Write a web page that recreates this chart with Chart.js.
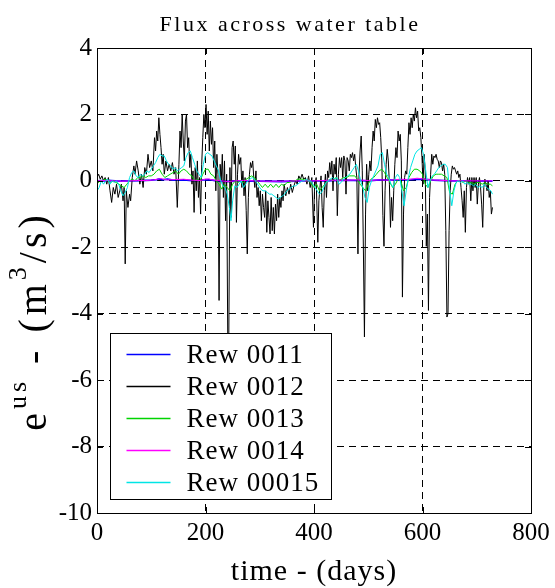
<!DOCTYPE html>
<html><head><meta charset="utf-8">
<script src="https://cdn.jsdelivr.net/npm/chart.js@4.4.1/dist/chart.umd.min.js"></script>
<style>html,body{margin:0;padding:0;background:#fff;}</style>
</head><body>
<canvas id="c" width="555" height="588" style="display:block;width:555px;height:588px"></canvas>
<script>
const titleText = 'Flux across water table';
const xLabel = 'time - (days)';
const xTicks = [0, 200, 400, 600, 800];
const yTicks = [-10, -8, -6, -4, -2, 0, 2, 4];
const seriesNames = ['Rew 0011', 'Rew 0012', 'Rew 0013', 'Rew 0014', 'Rew 00015'];
const seriesColors = ['#0000ff', '#000000', '#00d400', '#ff00ff', '#00e5e5'];

// [day, value] pairs
const rew0011 = [[0,0],[20,0.01],[40,-0.01],[60,0],[80,0.01],[100,0.02],[110,0.04],[115,0.06],[120,0.03],[130,0.05],[140,0.02],[160,0.03],[180,0],[200,0.04],[210,0.03],[220,0],[240,-0.02],[260,0],[300,-0.01],[340,-0.02],[380,0],[420,0],[460,0.02],[500,0],[520,0.03],[560,0.02],[580,0.04],[600,0.05],[620,0.02],[650,0],[700,0],[729,-0.01]];

const rew0012 = [[0,0.1],[3,0.2],[6,0.05],[9,0.15],[12,0],[15,0.1],[18,-0.1],[21,0.1],[24,-0.3],[27,-0.65],[30,-0.2],[33,-0.4],[36,-0.1],[39,-0.5],[42,-0.3],[45,-0.1],[48,-0.6],[50,-0.2],[52,-2.5],[54,-0.3],[57,-0.8],[60,-0.4],[62,-0.6],[65,0.1],[68,0.45],[70,0.2],[73,0.6],[76,0.3],[79,-0.1],[82,0.2],[85,-0.2],[88,0.4],[91,0.2],[94,0.8],[97,0.4],[100,0.6],[103,0.3],[106,1.3],[108,0.9],[110,1.5],[112,1.2],[114,1.9],[116,1.4],[118,1.0],[120,0.5],[122,0.8],[124,0.2],[127,0.6],[130,0.3],[133,0.5],[136,0.3],[139,0.55],[142,0.2],[145,0.4],[148,-0.8],[151,0.5],[153,1.5],[155,1.0],[157,2.0],[159,1.2],[161,0.6],[163,1.8],[165,2.0],[167,1.0],[169,1.3],[171,0.4],[173,0.8],[175,-0.1],[177,0.3],[179,-0.95],[181,0.4],[183,-0.3],[185,0.6],[187,-0.5],[189,0.1],[191,-1.0],[193,0.5],[195,1.3],[197,2.0],[199,1.6],[201,2.3],[203,1.4],[205,2.1],[207,0.9],[209,1.8],[211,1.1],[213,1.6],[215,0.4],[217,1.2],[219,-0.3],[221,0.8],[223,0.2],[225,-3.6],[227,0.5],[229,0],[231,0.8],[233,-0.5],[235,0.6],[237,-1.2],[239,0.2],[241,-4.7],[243,-4.6],[245,0.4],[247,-1.1],[249,1.0],[251,1.2],[253,0.5],[255,1.05],[257,-1.25],[259,0.2],[261,0.8],[263,0.5],[265,0.7],[267,-0.2],[269,0.3],[271,-0.45],[273,0.1],[275,-0.9],[277,-2.2],[279,-0.5],[281,0.2],[283,0.55],[285,0.4],[287,0.6],[289,0.1],[291,-0.2],[293,0.3],[295,-0.5],[297,-0.2],[299,-0.75],[301,-0.3],[303,-1.2],[305,-0.4],[307,-0.8],[309,-1.1],[311,-0.3],[313,-1.55],[315,-0.6],[317,-1.1],[319,-1.6],[321,-0.5],[323,-1.5],[325,-0.8],[327,-1.6],[329,-0.7],[331,-1.2],[333,-0.4],[335,-1.1],[337,-0.5],[339,-0.8],[341,-0.3],[343,-0.6],[345,-0.1],[348,-0.45],[351,-0.2],[354,-0.4],[357,-0.1],[360,-0.35],[363,-0.15],[366,0],[369,-0.1],[372,0.15],[375,0.05],[378,0.2],[381,0.05],[384,0.1],[387,-0.1],[390,0.15],[393,-0.2],[396,0.1],[399,-1.4],[401,-0.2],[404,0.1],[407,-1.85],[409,-0.6],[411,-0.2],[413,0.15],[415,-0.8],[417,-1.4],[419,-0.3],[421,0.2],[423,-0.5],[425,0.3],[427,0.1],[429,0.55],[431,0.2],[433,0.6],[435,-0.3],[437,0.5],[439,0.2],[441,0.7],[443,-1.05],[445,0.2],[447,0.7],[449,0.4],[451,0.7],[453,0.1],[455,0.75],[457,0.6],[459,-0.4],[461,0.7],[463,0.6],[465,0.3],[467,0.8],[469,0.7],[471,0.85],[473,0.6],[475,0.8],[477,0.4],[479,0.1],[481,-2.2],[483,0.2],[485,0.9],[487,1.35],[489,0.3],[491,-2.0],[493,-4.7],[495,-1.0],[497,0.5],[499,-0.3],[501,0.2],[503,0.6],[505,0.3],[507,1.0],[509,1.5],[511,1.2],[513,1.85],[515,1.6],[517,1.9],[519,1.7],[521,1.75],[523,1.3],[525,0.6],[527,-1.05],[529,-1.97],[531,-0.3],[533,0.5],[535,0.95],[537,0.6],[539,-0.1],[541,-1.4],[543,-0.5],[545,-1.2],[547,-0.3],[549,0.5],[551,1.0],[553,0.7],[555,1.5],[557,1.2],[559,1.4],[561,0.6],[563,-3.5],[565,-1.0],[567,0.1],[569,0.3],[571,0.2],[573,1.0],[575,1.75],[577,1.4],[579,1.9],[581,1.6],[583,2.0],[585,1.8],[587,2.2],[589,1.9],[591,2.1],[593,1.5],[595,1.6],[597,1.3],[599,0.7],[601,-0.1],[603,0.8],[605,0.3],[607,-1.97],[609,-1.0],[611,-3.9],[613,-0.5],[615,0.2],[617,0.8],[619,0.5],[621,0.75],[623,0.7],[625,0.8],[627,0.65],[629,0.6],[631,0.4],[633,0.6],[635,0.55],[637,0.3],[639,0.5],[641,0.2],[643,-1.5],[645,-4.1],[647,-4.0],[649,-1.5],[651,-0.3],[653,0.2],[655,0.45],[657,0.35],[659,0.4],[661,0.3],[663,0.2],[665,0.3],[667,0.1],[669,0.2],[671,-0.2],[673,-0.6],[675,-1.1],[677,-0.3],[679,-1.55],[681,-0.2],[683,0.1],[685,-0.1],[687,0.1],[689,-0.6],[691,0.1],[693,-0.3],[695,0.1],[697,-0.2],[699,0.1],[701,-0.7],[703,-0.1],[705,0.1],[707,-0.2],[709,-0.7],[711,-1.4],[713,-0.2],[715,0.05],[717,-0.1],[719,-0.3],[721,0],[723,-0.5],[725,-0.3],[727,-1.0],[729,-0.8]];

const rew0013 = [[0,-0.1],[5,0],[10,0],[15,0.05],[20,0],[25,-0.05],[30,0],[35,-0.05],[40,-0.1],[45,-0.15],[50,-0.2],[55,-0.1],[60,0],[65,0.05],[70,0],[75,0.1],[80,0.1],[85,0.15],[90,0.1],[95,0.15],[100,0.15],[105,0.2],[110,0.3],[115,0.35],[120,0.2],[125,0.1],[130,0.15],[135,0.2],[140,0.25],[145,0.3],[150,0.2],[155,0.3],[160,0.35],[165,0.3],[170,0.2],[175,0.15],[180,0],[185,0.05],[190,0],[195,0.2],[200,0.35],[205,0.35],[210,0.2],[215,0.15],[220,0],[225,-0.1],[230,-0.25],[235,-0.1],[240,-0.2],[245,-0.3],[250,-0.1],[255,0],[260,-0.05],[265,0],[270,-0.05],[275,0.05],[280,0.1],[285,0.15],[290,0.1],[295,0],[300,-0.1],[305,-0.2],[310,-0.1],[315,-0.2],[320,-0.1],[325,-0.2],[330,-0.1],[335,-0.2],[340,-0.1],[345,-0.15],[350,-0.05],[355,-0.05],[360,0],[365,0],[370,0.05],[375,0.05],[380,0.05],[385,0],[390,0],[395,-0.1],[400,-0.2],[405,-0.1],[410,-0.3],[415,-0.2],[420,-0.1],[425,0],[430,0.05],[435,0],[440,0.1],[445,0],[450,0.05],[455,0.1],[460,0.1],[465,0.15],[470,0.15],[475,0.15],[480,0.05],[485,-0.1],[490,-0.2],[495,-0.3],[500,-0.1],[505,0.05],[510,0.1],[515,0.2],[520,0.3],[525,0.35],[530,0.25],[535,0.1],[540,-0.05],[545,-0.2],[550,-0.1],[555,0.05],[560,0],[565,-0.3],[570,-0.2],[575,0.1],[580,0.25],[585,0.35],[590,0.35],[595,0.3],[600,0.2],[605,-0.1],[610,-0.2],[615,0],[620,0.15],[625,0.2],[630,0.2],[635,0.2],[640,0.15],[645,0.1],[650,-0.35],[655,-0.4],[660,-0.1],[665,0],[670,0],[675,-0.05],[680,0],[685,-0.05],[690,-0.05],[695,-0.1],[700,-0.05],[705,-0.05],[710,-0.1],[715,-0.05],[720,-0.1],[725,-0.1],[729,-0.15]];

const rew0014 = [[0,0],[15,0.01],[30,0],[45,-0.01],[60,0],[75,0.01],[90,0.01],[105,0.03],[112,0.05],[118,0.07],[124,0.04],[130,0.03],[145,0.04],[160,0.05],[175,0.02],[190,0.01],[200,0.05],[206,0.06],[212,0.03],[225,0.01],[240,-0.02],[255,0],[270,0.01],[290,0],[310,-0.01],[340,-0.01],[370,0],[400,0],[430,0.02],[460,0.02],[480,0.03],[500,0.01],[520,0.03],[540,0.02],[560,0.05],[575,0.04],[590,0.08],[600,0.06],[615,0.03],[630,0.02],[650,0],[680,0],[710,0],[729,0]];

const rew00015 = [[0,-0.3],[4,-0.2],[8,0],[12,-0.1],[16,0],[20,0.05],[24,-0.1],[28,0],[32,-0.05],[36,0],[40,-0.1],[44,-0.3],[48,-0.45],[52,-0.35],[56,-0.2],[60,0.1],[64,0.25],[68,0.3],[72,0.15],[76,0.1],[80,0.2],[84,0.15],[88,0.2],[92,0.3],[96,0.25],[100,0.35],[104,0.45],[108,0.55],[112,0.7],[116,0.8],[120,0.75],[124,0.75],[128,0.6],[132,0.5],[136,0.45],[140,0.35],[144,0.4],[148,0.3],[152,0.35],[156,0.4],[160,0.45],[164,0.7],[168,0.85],[172,0.9],[176,0.7],[180,0.5],[184,0.3],[188,0.2],[192,0.1],[196,0.5],[200,0.8],[204,0.85],[208,0.8],[212,0.75],[216,0.6],[220,0.45],[224,0.3],[228,0],[232,-0.15],[236,-0.2],[240,-0.4],[244,-0.8],[247,-1.2],[250,-0.6],[254,-0.15],[258,-0.2],[262,-0.1],[266,0],[270,-0.2],[274,-0.1],[278,0],[282,0.05],[286,0.1],[290,0.05],[294,-0.05],[298,-0.15],[302,-0.25],[306,-0.3],[310,-0.3],[314,-0.35],[318,-0.4],[322,-0.4],[326,-0.45],[330,-0.5],[334,-0.55],[338,-0.5],[342,-0.45],[346,-0.4],[350,-0.3],[354,-0.25],[358,-0.2],[362,-0.15],[366,-0.15],[370,-0.1],[374,-0.05],[378,0],[382,0],[386,0.05],[390,0],[394,0],[398,-0.1],[402,-0.2],[406,-0.3],[410,-0.4],[414,-0.35],[418,-0.2],[422,-0.05],[426,0],[430,0.05],[434,0.1],[438,0.05],[442,0.1],[446,-0.1],[450,-0.05],[454,0.05],[458,0.1],[462,0.15],[466,0.2],[470,0.3],[474,0.4],[478,0.5],[482,0.3],[486,0],[490,-0.2],[494,-0.5],[498,-0.65],[502,-0.2],[506,0],[510,0.15],[514,0.3],[518,0.45],[522,0.8],[526,0.85],[530,0.5],[534,0.2],[538,0.1],[542,-0.1],[546,-0.2],[550,0.1],[554,0.2],[558,0.1],[562,-0.3],[566,-0.75],[570,-0.3],[574,0.1],[578,0.4],[582,0.6],[586,0.8],[590,0.9],[594,0.95],[598,1.0],[602,0.8],[606,0.3],[610,-0.2],[614,0],[618,0.15],[622,0.2],[626,0.3],[630,0.4],[634,0.45],[638,0.5],[642,0.5],[646,0.4],[650,-0.3],[654,-0.75],[658,-0.3],[662,-0.05],[666,0],[670,-0.05],[674,0],[678,-0.1],[682,-0.05],[686,-0.1],[690,-0.1],[694,-0.15],[698,-0.1],[702,-0.2],[706,-0.15],[710,-0.2],[714,-0.1],[718,-0.2],[722,-0.25],[726,-0.3],[729,-0.4]];

const seriesData = [rew0011, rew0012, rew0013, rew0014, rew00015];
const seriesWidths = [1.8, 1, 1, 1, 1];

const SERIF = "'Liberation Serif', 'Times New Roman', serif";

const datasets = seriesData.map((d, i) => ({
  label: seriesNames[i],
  data: d.map(p => ({ x: p[0], y: p[1] })),
  borderColor: seriesColors[i],
  backgroundColor: seriesColors[i],
  borderWidth: seriesWidths[i],
  pointRadius: 0,
  tension: 0,
  fill: false,
  order: seriesData.length - 1 - i
}));

function setLS(ctx, v) { try { ctx.letterSpacing = v; } catch (e) {} }

const decor = {
  id: 'decor',
  afterDraw(chart) {
    const ctx = chart.ctx;
    const ca = chart.chartArea;
    const xs = chart.scales.x, ys = chart.scales.y;
    ctx.save();
    // frame
    ctx.strokeStyle = '#000';
    ctx.lineWidth = 1;
    ctx.setLineDash([]);
    ctx.strokeRect(Math.round(ca.left) + 0.5, Math.round(ca.top) + 0.5,
                   Math.round(ca.right - ca.left), Math.round(ca.bottom - ca.top));
    // inward ticks
    const tl = 6;
    ctx.beginPath();
    xTicks.forEach(v => {
      const px = Math.round(xs.getPixelForValue(v)) + 0.5;
      ctx.moveTo(px, ca.bottom); ctx.lineTo(px, ca.bottom - tl);
      ctx.moveTo(px, ca.top); ctx.lineTo(px, ca.top + tl);
    });
    yTicks.forEach(v => {
      const py = Math.round(ys.getPixelForValue(v)) + 0.5;
      ctx.moveTo(ca.left, py); ctx.lineTo(ca.left + tl, py);
      ctx.moveTo(ca.right, py); ctx.lineTo(ca.right - tl, py);
    });
    ctx.stroke();

    ctx.fillStyle = '#000';
    // title
    ctx.font = '22px ' + SERIF;
    ctx.textAlign = 'center';
    ctx.textBaseline = 'alphabetic';
    setLS(ctx, '2.5px');
    ctx.fillText(titleText, 290, 31);
    // x label
    ctx.font = '30px ' + SERIF;
    setLS(ctx, '1px');
    ctx.fillText(xLabel, 314, 580);
    // y label with superscripts
    const pieces = [['e', 0], ['us', 1], [' - (m', 0], ['3', 1], ['/s)', 0]];
    const mainF = '40px ' + SERIF, supF = '26px ' + SERIF;
    setLS(ctx, '4px');
    let total = 0;
    pieces.forEach(p => { ctx.font = p[1] ? supF : mainF; total += ctx.measureText(p[0]).width; });
    ctx.translate(46, 0);
    ctx.rotate(-Math.PI / 2);
    ctx.textAlign = 'left';
    let pos = -(321 + total / 2);
    pieces.forEach(p => {
      ctx.font = p[1] ? supF : mainF;
      ctx.fillText(p[0], pos, p[1] ? -20 : 0);
      pos += ctx.measureText(p[0]).width;
    });
    ctx.restore();

    // legend
    ctx.save();
    const L = Math.round(ca.left) + 13.5, R = Math.round(ca.left) + 234.5;
    const T = Math.round(ca.bottom) - 179.5, B = Math.round(ca.bottom) - 13.5;
    ctx.fillStyle = '#fff';
    ctx.fillRect(L, T, R - L, B - T);
    ctx.strokeStyle = '#000';
    ctx.lineWidth = 1;
    ctx.strokeRect(L, T, R - L, B - T);
    ctx.font = '27px ' + SERIF;
    setLS(ctx, '1px');
    ctx.textAlign = 'left';
    ctx.textBaseline = 'middle';
    chart.data.datasets.forEach((ds, i) => {
      const y = Math.round(T + 20 + 32 * i) + 0.5;
      ctx.strokeStyle = ds.borderColor;
      ctx.lineWidth = 1.5;
      ctx.beginPath();
      ctx.moveTo(L + 16, y); ctx.lineTo(L + 60, y);
      ctx.stroke();
      ctx.fillStyle = '#000';
      ctx.fillText(ds.label, L + 76, y + 1);
    });
    ctx.restore();
  }
};

new Chart(document.getElementById('c'), {
  type: 'line',
  data: { datasets },
  options: {
    responsive: false,
    animation: false,
    devicePixelRatio: 1,
    layout: { padding: { left: 0, top: 48, right: 24, bottom: 0 } },
    plugins: { legend: { display: false }, title: { display: false }, tooltip: { enabled: false } },
    scales: {
      x: {
        type: 'linear', min: 0, max: 800,
        afterBuildTicks: s => { s.ticks = xTicks.map(v => ({ value: v })); },
        afterFit: s => { s.height = 75; },
        ticks: { font: { family: SERIF, size: 25 }, color: '#000', padding: 5, maxRotation: 0, autoSkip: false },
        grid: { color: '#000', lineWidth: 1, drawTicks: false },
        border: { display: false, dash: [7, 5] }
      },
      y: {
        type: 'linear', min: -10, max: 4,
        afterBuildTicks: s => { s.ticks = yTicks.map(v => ({ value: v })); },
        afterFit: s => { s.width = 97; },
        ticks: { font: { family: SERIF, size: 25 }, color: '#000', padding: 5, autoSkip: false },
        grid: { color: '#000', lineWidth: 1, drawTicks: false },
        border: { display: false, dash: [7, 5] }
      }
    }
  },
  plugins: [decor]
});
</script>
</body></html>
